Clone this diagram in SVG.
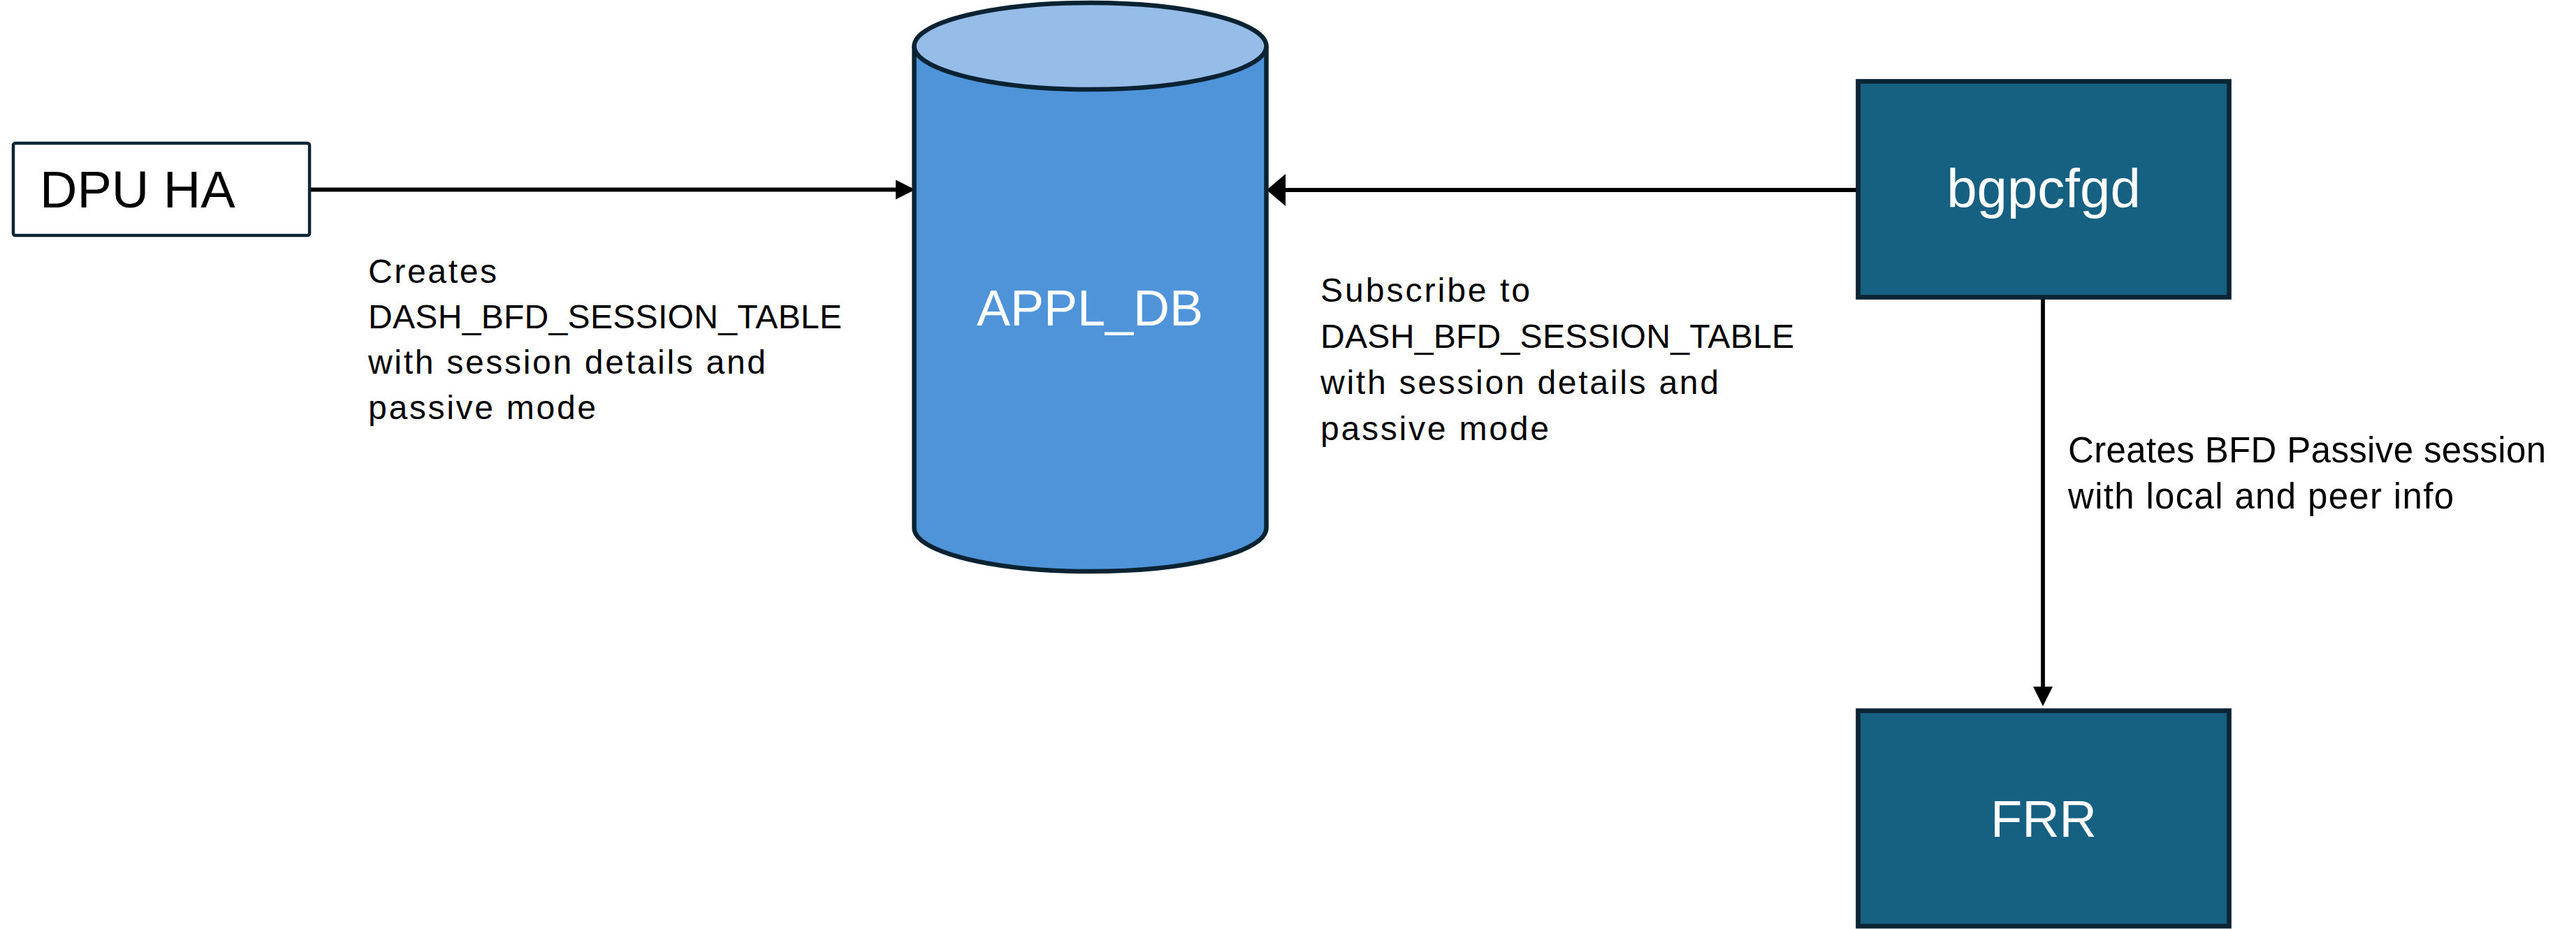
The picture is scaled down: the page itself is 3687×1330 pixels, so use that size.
<svg xmlns="http://www.w3.org/2000/svg" width="3687" height="1330" viewBox="0 0 3687 1330">
  <style>
    .lbl { font-family: "Liberation Sans", Arial, sans-serif; fill: #000000; }
    .node-text { font-family: "Liberation Sans", Arial, sans-serif; fill: #ffffff; text-anchor: middle; }
    .proc { fill: #166082; stroke: #0b2535; stroke-width: 6.7; }
    .conn { fill: none; stroke: #000000; stroke-width: 5.8; }
  </style>
  <defs>
    <marker id="headNarrow" viewBox="0 0 28 28" refX="1" refY="14" markerWidth="28" markerHeight="28" markerUnits="userSpaceOnUse" orient="auto">
      <path d="M0,0 L28,14 L0,28 Z" fill="#000000"/>
    </marker>
    <marker id="headWide" viewBox="0 0 27 46" refX="2" refY="23" markerWidth="27" markerHeight="46" markerUnits="userSpaceOnUse" orient="auto">
      <path d="M0,0 L27,23 L0,46 Z" fill="#000000"/>
    </marker>
  </defs>
  <rect x="0" y="0" width="3687" height="1330" fill="#ffffff"/>

  <g id="connectors">
    <path class="conn" d="M445,271.5 H1283" marker-end="url(#headNarrow)"/>
    <path class="conn" d="M2659,272 H1838" marker-end="url(#headWide)"/>
    <path class="conn" d="M2924,425 V984" marker-end="url(#headNarrow)"/>
  </g>

  <g id="node-dpu-ha">
    <rect x="19" y="205" width="424" height="132" rx="3" fill="#ffffff" stroke="#0b2535" stroke-width="4.5"/>
    <text class="lbl" x="57" y="297" font-size="74">DPU HA</text>
  </g>

  <g id="node-appl-db">
    <path d="M1308.5,66 V756 A252,62 0 0 0 1812.5,756 V66" fill="#4f94d8" stroke="#0a2333" stroke-width="6.5"/>
    <ellipse cx="1560.5" cy="66" rx="252" ry="62" fill="#95bde8" stroke="#0a2333" stroke-width="6.5"/>
    <text class="node-text" x="1560" y="466" font-size="72">APPL_DB</text>
  </g>

  <g id="node-bgpcfgd">
    <rect class="proc" x="2659.5" y="116.5" width="531" height="309"/>
    <text class="node-text" x="2925" y="297" font-size="78">bgpcfgd</text>
  </g>

  <g id="node-frr">
    <rect class="proc" x="2659.5" y="1017.5" width="531" height="308.5"/>
    <text class="node-text" x="2925" y="1198" font-size="74">FRR</text>
  </g>

  <g id="label-creates">
    <text class="lbl" font-size="48" lengthAdjust="spacing">
      <tspan x="527" y="405" textLength="184">Creates</tspan>
      <tspan x="527" y="470" textLength="678">DASH_BFD_SESSION_TABLE</tspan>
      <tspan x="527" y="535" textLength="569">with session details and</tspan>
      <tspan x="527" y="600" textLength="326">passive mode</tspan>
    </text>
  </g>

  <g id="label-subscribe">
    <text class="lbl" font-size="48" lengthAdjust="spacing">
      <tspan x="1890" y="432" textLength="300">Subscribe to</tspan>
      <tspan x="1890" y="498" textLength="678">DASH_BFD_SESSION_TABLE</tspan>
      <tspan x="1890" y="564" textLength="570">with session details and</tspan>
      <tspan x="1890" y="630" textLength="327">passive mode</tspan>
    </text>
  </g>

  <g id="label-bfd">
    <text class="lbl" font-size="51" lengthAdjust="spacing">
      <tspan x="2960" y="662" textLength="684">Creates BFD Passive session</tspan>
      <tspan x="2960" y="728" textLength="552">with local and peer info</tspan>
    </text>
  </g>
</svg>
